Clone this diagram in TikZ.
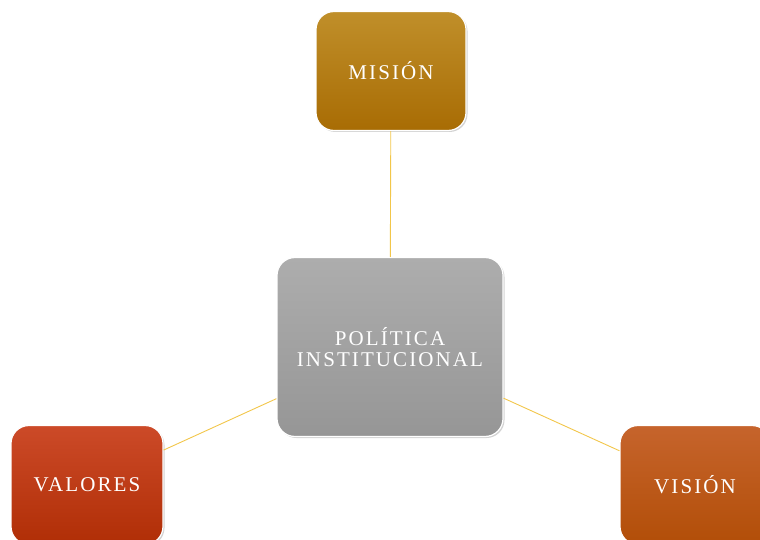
\documentclass[tikz,border=0pt]{standalone}
\usepackage{fontspec}
\newfontfamily\cajafont{Liberation Serif}[LetterSpace=10]
\usetikzlibrary{shadows}

\definecolor{misionA}{HTML}{C08F2A}
\definecolor{misionB}{HTML}{A86C04}
\definecolor{centroA}{HTML}{ADADAD}
\definecolor{centroB}{HTML}{969696}
\definecolor{valoresA}{HTML}{CC4A28}
\definecolor{valoresB}{HTML}{B02E06}
\definecolor{visionA}{HTML}{C6642C}
\definecolor{visionB}{HTML}{B24E08}
\definecolor{enlace}{HTML}{F2C64A}

\begin{document}
\begin{tikzpicture}[x=1pt, y=-1pt,
        caja/.style={rounded corners=18pt, draw=white, line width=1.2pt,
            text=white, align=center, font=\cajafont\fontsize{21}{21}\selectfont,
            inner sep=0pt, drop shadow={shadow xshift=1.5pt, shadow yshift=-1.5pt, opacity=0.35}},
        enlace/.style={draw=enlace, line width=0.9pt}]
    \useasboundingbox (0,0) rectangle (760,540);
    \clip (0,0) rectangle (760,540);

    \node[caja, minimum width=150pt, minimum height=119pt,
        top color=misionA, bottom color=misionB] (mision) at (391,71) {MISIÓN};
    \node[caja, minimum width=226pt, minimum height=179pt,
        top color=centroA, bottom color=centroB] (centro) at (390,347) {POLÍTICA\\INSTITUCIONAL};
    \node[caja, minimum width=152pt, minimum height=119pt,
        top color=valoresA, bottom color=valoresB] (valores) at (87,485) {VALORES};
    \node[caja, minimum width=150pt, minimum height=119pt,
        top color=visionA, bottom color=visionB] (vision) at (695,485) {VISIÓN};

    % enlaces al centro
    \foreach \n in {mision, valores, vision} {
        \draw[enlace] (\n) -- (centro);
    }
\end{tikzpicture}
\end{document}
